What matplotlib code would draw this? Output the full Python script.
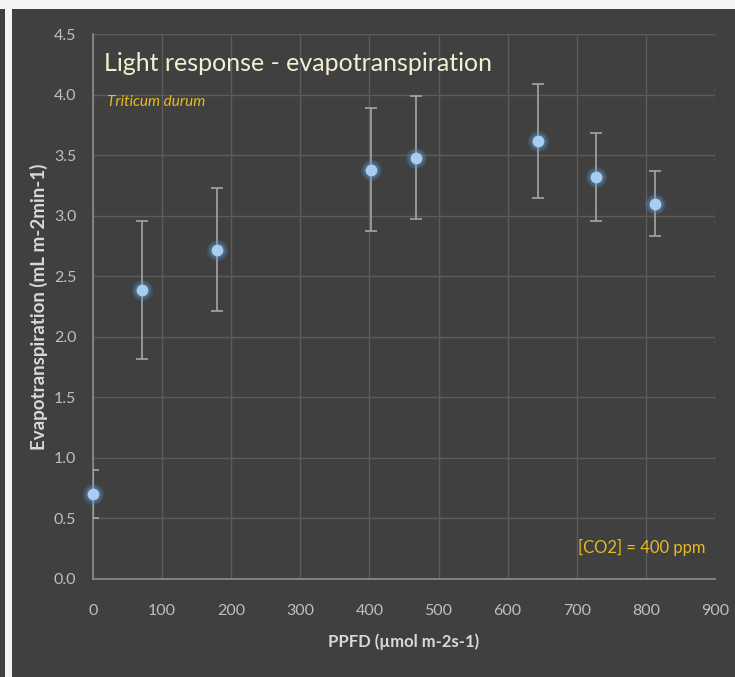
import numpy as np
import matplotlib.pyplot as plt
from matplotlib.patches import Rectangle

plt.rcParams['font.family'] = ['Lato', 'DejaVu Sans']

# light response data
ppfd = [0, 71, 179, 402, 467, 644, 728, 813]
et = [0.70, 2.39, 2.72, 3.38, 3.48, 3.62, 3.32, 3.10]
et_err = [0.20, 0.57, 0.51, 0.51, 0.51, 0.47, 0.36, 0.27]

bg = '#404040'
fig = plt.figure(figsize=(7.35, 6.77), dpi=100, facecolor=bg)

# white frame strips at top and left edge
fig.patches.append(Rectangle((0, 1 - 9/677), 1, 9/677, transform=fig.transFigure,
                             facecolor='#f4f4f4', edgecolor='none', zorder=0))
fig.patches.append(Rectangle((5/735, 0), 7/735, 1, transform=fig.transFigure,
                             facecolor='#f4f4f4', edgecolor='none', zorder=0))

ax = fig.add_axes([93/735, 98/677, 622/735, 545/677], facecolor=bg)

ax.errorbar(ppfd, et, yerr=et_err, fmt='none', ecolor='#a6a6a6',
            elinewidth=1.2, capsize=4, capthick=1.2, zorder=3)
# soft glow under the markers
ax.plot(ppfd, et, 'o', ms=15, color='#5b9bd5', alpha=0.2, mec='none', zorder=4, clip_on=False)
ax.plot(ppfd, et, 'o', ms=12, color='#5b9bd5', alpha=0.3, mec='none', zorder=4, clip_on=False)
ax.plot(ppfd, et, 'o', ms=8.5, color='#a9cdf0', mec='none', zorder=5, clip_on=False)

ax.set_xlim(0, 900)
ax.set_ylim(0, 4.5)
ax.set_xticks(np.arange(0, 901, 100))
ax.set_yticks(np.arange(0, 4.51, 0.5))
ax.set_yticklabels(['%.1f' % v for v in np.arange(0, 4.51, 0.5)])
ax.grid(True, color='#5c5c5c', linewidth=1)
ax.set_axisbelow(True)

for s in ['top', 'right']:
    ax.spines[s].set_visible(False)
for s in ['left', 'bottom']:
    ax.spines[s].set_color('#8c8c8c')
    ax.spines[s].set_linewidth(1.2)
ax.tick_params(colors='#bfbfbf', labelsize=11.5, length=0)
ax.tick_params(axis='x', pad=18)
ax.tick_params(axis='y', pad=12)

ax.set_xlabel('PPFD (µmol m-2s-1)', color='#d9d9d9', fontsize=12, fontweight='bold', labelpad=11)
ax.set_ylabel('Evapotranspiration (mL m-2min-1)', color='#d9d9d9', fontsize=13.5,
              fontweight='bold', labelpad=4)

ax.text(0.017, 0.945, 'Light response - evapotranspiration', transform=ax.transAxes,
        color='#f2efd0', fontsize=18, va='center', ha='left')
ax.text(0.022, 0.875, 'Triticum durum', transform=ax.transAxes, color='#e8b923',
        fontsize=11, style='italic', va='center', ha='left')
ax.text(0.985, 0.057, '[CO2] = 400 ppm', transform=ax.transAxes, color='#e8b923',
        fontsize=12, va='center', ha='right')

plt.savefig('out.png', dpi=100, facecolor=bg)
